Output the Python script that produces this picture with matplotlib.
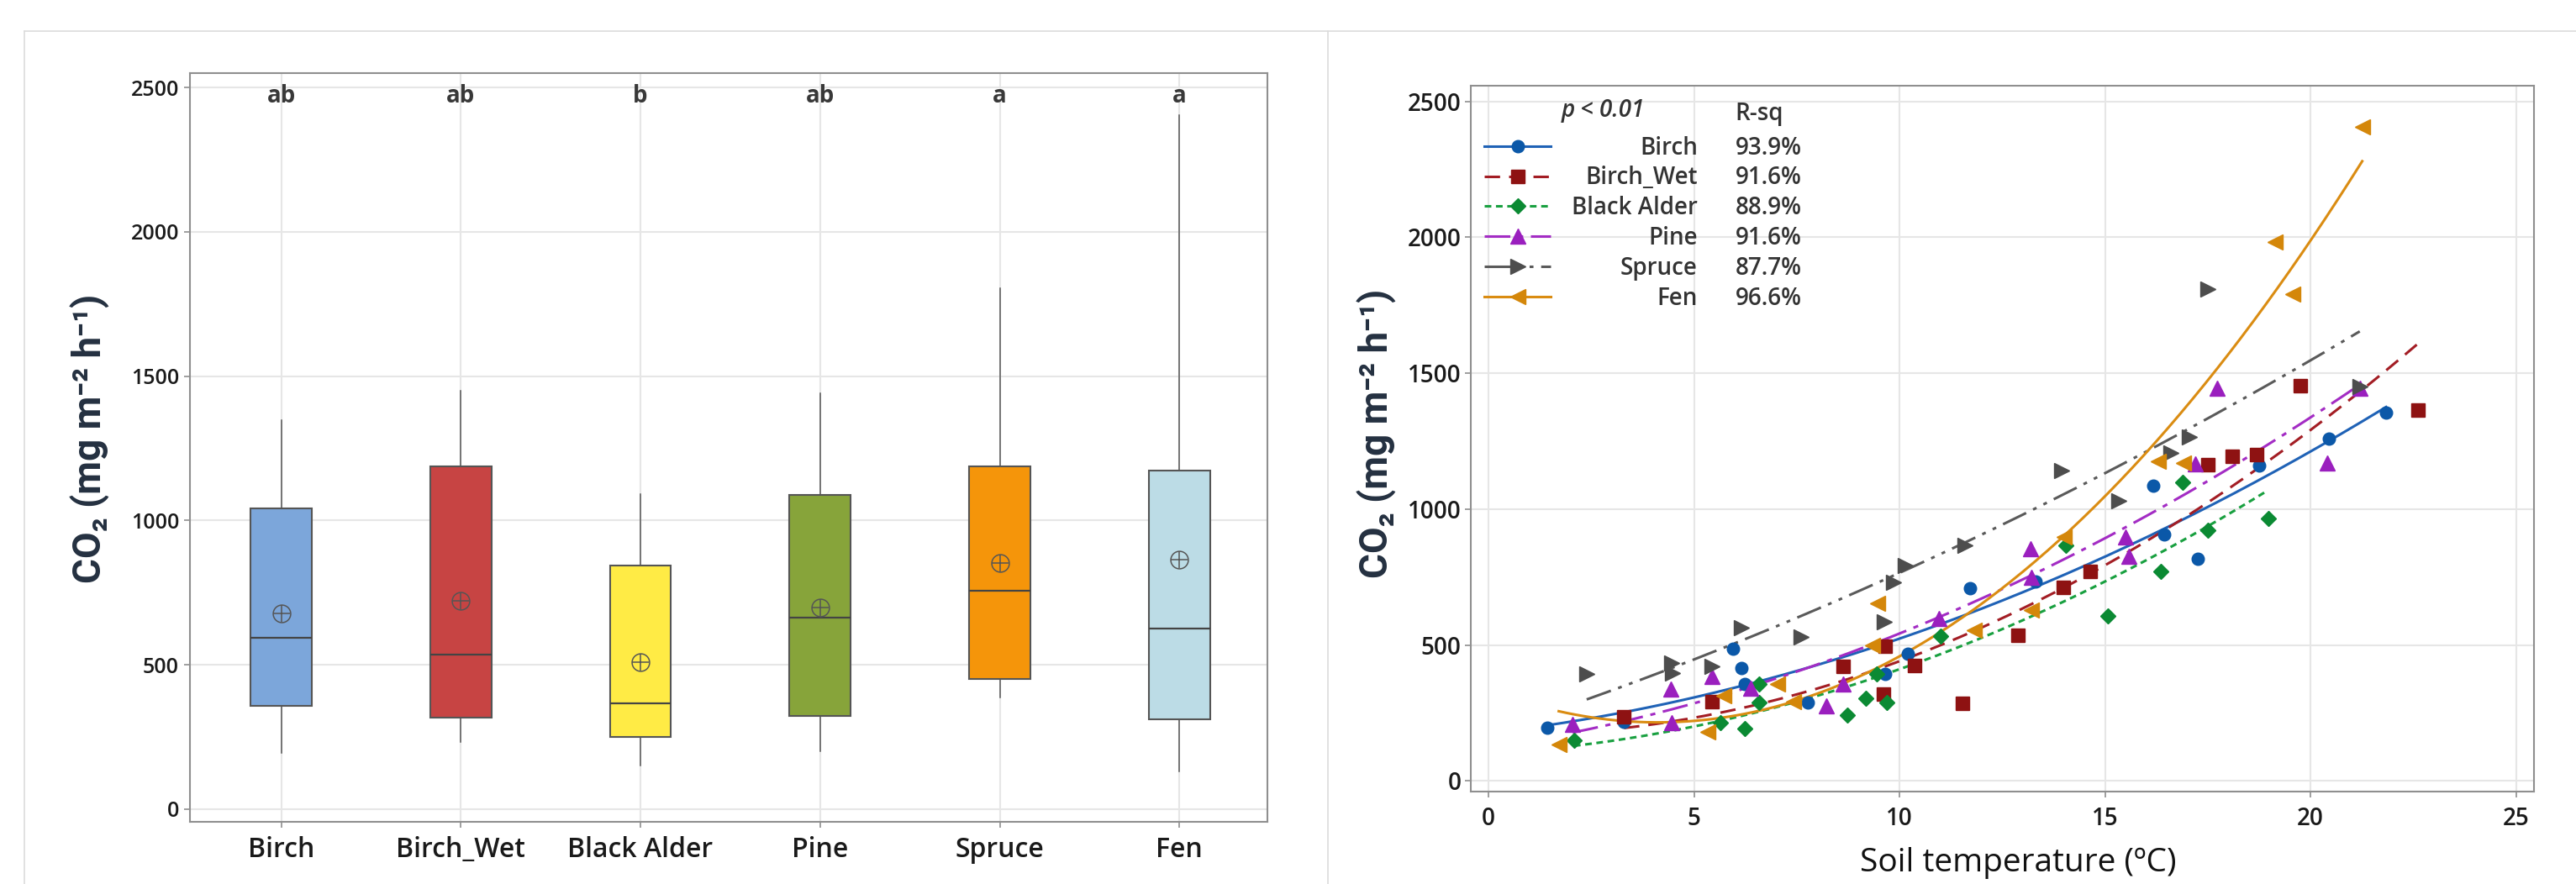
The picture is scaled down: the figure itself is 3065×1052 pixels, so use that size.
import numpy as np
import matplotlib.pyplot as plt
from matplotlib.lines import Line2D

plt.rcParams['font.family'] = ['Open Sans', 'DejaVu Sans']
plt.rcParams['font.weight'] = 'semibold'

# ---- left panel: box plot summary per site
sites = ['Birch', 'Birch_Wet', 'Black Alder', 'Pine', 'Spruce', 'Fen']
box_low = [195, 234, 152, 201, 387, 131]
box_q1 = [357, 316, 250, 324, 451, 311]
box_med = [594, 535, 367, 664, 756, 625]
box_q3 = [1043, 1189, 844, 1090, 1189, 1174]
box_high = [1347, 1449, 1092, 1441, 1805, 2404]
box_mean = [678, 723, 508, 699, 852, 863]
letters = ['ab', 'ab', 'b', 'ab', 'a', 'a']
box_colors = ['#7CA6DA', '#C74443', '#FFEB45', '#87A43A', '#F5950A', '#BCDCE6']

# ---- right panel: soil temperature vs CO2
birch_t = [1.43, 3.29, 5.95, 6.16, 6.24, 7.78, 9.66, 10.21, 11.72, 13.32, 16.18, 16.44, 17.25, 18.76, 20.44, 21.84]
birch_co2 = [197, 218, 487, 414, 357, 288, 393, 468, 708, 735, 1087, 906, 818, 1160, 1259, 1354]
wet_t = [3.30, 5.43, 8.62, 9.62, 9.65, 10.36, 11.53, 12.89, 13.99, 14.64, 17.5, 18.1, 18.7, 19.75, 22.62]
wet_co2 = [236, 292, 420, 321, 497, 424, 286, 537, 711, 771, 1164, 1194, 1200, 1453, 1365]
alder_t = [2.08, 5.64, 6.23, 6.58, 6.58, 8.73, 9.18, 9.45, 9.70, 11.0, 14.04, 15.07, 16.36, 16.9, 17.5, 18.97]
alder_co2 = [150, 215, 192, 358, 288, 242, 305, 393, 288, 533, 868, 606, 771, 1100, 922, 965]
pine_t = [2.05, 4.44, 4.46, 5.43, 6.37, 8.23, 8.63, 10.97, 13.18, 13.2, 15.5, 15.59, 17.2, 17.72, 20.41, 21.2]
pine_co2 = [209, 338, 215, 385, 341, 277, 358, 598, 855, 750, 897, 827, 1167, 1446, 1170, 1446]
spruce_t = [2.39, 4.46, 4.47, 5.43, 6.16, 7.6, 9.63, 9.85, 10.14, 11.6, 13.95, 15.34, 16.6, 17.05, 17.5, 21.2]
spruce_co2 = [393, 433, 397, 422, 565, 531, 586, 732, 793, 866, 1143, 1032, 1207, 1266, 1810, 1452]
fen_t = [1.71, 5.33, 5.73, 7.03, 7.43, 9.34, 9.47, 11.82, 13.2, 14.0, 16.29, 16.91, 19.15, 19.58, 21.26]
fen_co2 = [134, 179, 314, 357, 292, 498, 654, 554, 628, 897, 1175, 1170, 1984, 1791, 2407]
r_sq = ['93.9%', '91.6%', '88.9%', '91.6%', '87.7%', '96.6%']

temps = [birch_t, wet_t, alder_t, pine_t, spruce_t, fen_t]
fluxes = [birch_co2, wet_co2, alder_co2, pine_co2, spruce_co2, fen_co2]
markers = ['o', 's', 'D', '^', '>', '<']
msizes = [10.5, 11, 9.5, 12.5, 12.5, 12.5]
point_colors = ['#0B58A8', '#8E1212', '#0B8A33', '#9A1FBE', '#4D4D4D', '#D4870A']
line_colors = ['#1F62B6', '#A31D24', '#19A040', '#A32CC4', '#5A5A5A', '#DA8C12']
line_styles = ['-', (0, (6, 3.5)), (0, (2.6, 1.8)), (0, (10, 3, 2, 3)), (0, (10, 3, 1.5, 3, 1.5, 3)), '-']

spine_col = '#8F8F8F'
grid_col = '#E6E6E6'
ylab = 'CO\u2082 (mg m\u207b\u00b2 h\u207b\u00b9)'
ylab_font = dict(family=['Roboto', 'DejaVu Sans'], fontsize=33, fontweight='bold', color='#243040')

fig = plt.figure(figsize=(30.65, 10.52), dpi=100)

# panel frames
for xs, ys in [([0.0095, 1.0], [0.9648, 0.9648]), ([0.0095, 0.0095], [0.0, 0.9648]), ([0.5155, 0.5155], [0.0, 0.9648])]:
    fig.add_artist(Line2D(xs, ys, transform=fig.transFigure, color='#DCDCDC', lw=1.2))

# ---------------- left panel
ax1 = fig.add_axes([0.0736, 0.0703, 0.4184, 0.8470])
pos = np.arange(len(sites))
stats = []
for i in range(len(sites)):
    stats.append({'whislo': box_low[i], 'q1': box_q1[i], 'med': box_med[i], 'q3': box_q3[i],
                  'whishi': box_high[i], 'mean': box_mean[i], 'fliers': []})
bp = ax1.bxp(stats, positions=pos, widths=0.34, patch_artist=True, showcaps=False, showfliers=False,
             showmeans=True,
             boxprops=dict(edgecolor='#555555', linewidth=1.5),
             whiskerprops=dict(color='#555555', linewidth=1.1),
             medianprops=dict(color='#444444', linewidth=1.6),
             meanprops=dict(marker='o', markersize=15, markerfacecolor='none', markeredgecolor='#555555',
                            markeredgewidth=1.1))
for patch, c in zip(bp['boxes'], box_colors):
    patch.set_facecolor(c)
ax1.plot(pos, box_mean, ls='none', marker='+', markersize=15, color='#555555', mew=1.1, zorder=5)
for p, l in zip(pos, letters):
    ax1.text(p, 2470, l, ha='center', va='center', fontsize=20, fontweight='bold', color='#383838')

ax1.set_xlim(-0.51, 5.49)
ax1.set_ylim(-44, 2550)
ax1.set_yticks([0, 500, 1000, 1500, 2000, 2500])
ax1.set_xticks(pos)
ax1.set_xticklabels(sites)
ax1.tick_params(axis='y', labelsize=18, length=5, width=1.2, color=spine_col, pad=4, labelcolor='#1A1A1A')
ax1.tick_params(axis='x', labelsize=23, length=5, width=1.2, color=spine_col, pad=7, labelcolor='#1A1A1A')
ax1.grid(True, color=grid_col, lw=1.5)
ax1.set_axisbelow(True)
for s in ax1.spines.values():
    s.set_color(spine_col)
    s.set_linewidth(1.5)
ax1.set_ylabel(ylab, va='center', **ylab_font)
ax1.yaxis.set_label_coords(-0.092, 0.512)

# ---------------- right panel
ax2 = fig.add_axes([0.5708, 0.1046, 0.4129, 0.7985])
handles = []
for i in range(len(sites)):
    t = np.array(temps[i])
    f = np.array(fluxes[i])
    coef = np.polyfit(t, f, 2)
    tt = np.linspace(t.min(), t.max(), 200)
    ax2.plot(tt, np.polyval(coef, tt), color=line_colors[i], ls=line_styles[i], lw=2.2, zorder=3)
    ax2.plot(t, f, ls='none', marker=markers[i], ms=msizes[i], color=point_colors[i], mec=point_colors[i], zorder=4)
    handles.append(Line2D([], [], color=line_colors[i], ls=line_styles[i], lw=2.2, marker=markers[i],
                          ms=msizes[i], mfc=point_colors[i], mec=point_colors[i]))

ax2.set_xlim(-0.44, 25.44)
ax2.set_ylim(-39, 2558)
ax2.set_xticks([0, 5, 10, 15, 20, 25])
ax2.set_yticks([0, 500, 1000, 1500, 2000, 2500])
ax2.tick_params(labelsize=20, length=5, width=1.2, color=spine_col, labelcolor='#1A1A1A')
ax2.tick_params(axis='x', pad=8)
ax2.tick_params(axis='y', pad=3)
ax2.grid(True, color=grid_col, lw=1.5)
ax2.set_axisbelow(True)
for s in ax2.spines.values():
    s.set_color(spine_col)
    s.set_linewidth(1.5)
ax2.set_ylabel(ylab, va='center', **ylab_font)
ax2.yaxis.set_label_coords(-0.088, 0.507)
ax2.set_xlabel('Soil temperature (\u00baC)', fontsize=28, color='#111111', va='center')
ax2.xaxis.set_label_coords(0.515, -0.101)

leg = ax2.legend(handles, r_sq, loc='upper left', bbox_to_anchor=(0.013, 0.929), frameon=False,
                 fontsize=20, handlelength=2.85, handletextpad=7.9, labelspacing=0.245,
                 borderpad=0, borderaxespad=0, numpoints=1)
for t in leg.get_texts():
    t.set_color('#333333')

fig.canvas.draw()
inv = fig.transFigure.inverted()
name_x = 2020 / 3065
for t, name in zip(leg.get_texts(), sites):
    bb = t.get_window_extent()
    x0, y0 = inv.transform((bb.x0, bb.y0))
    fig.text(name_x, y0, name, ha='right', va='bottom', fontsize=20, color='#333333')
bb = leg.get_texts()[0].get_window_extent()
rx, _ = inv.transform((bb.x0, bb.y0))
fig.text(rx, 1 - 135 / 1052, 'R-sq', ha='left', va='center', fontsize=20, color='#333333')
fig.text(1858 / 3065, 1 - 132 / 1052, 'p < 0.01', ha='left', va='center', fontsize=20,
         style='italic', color='#333333')

fig.savefig('out.png', dpi=100)
